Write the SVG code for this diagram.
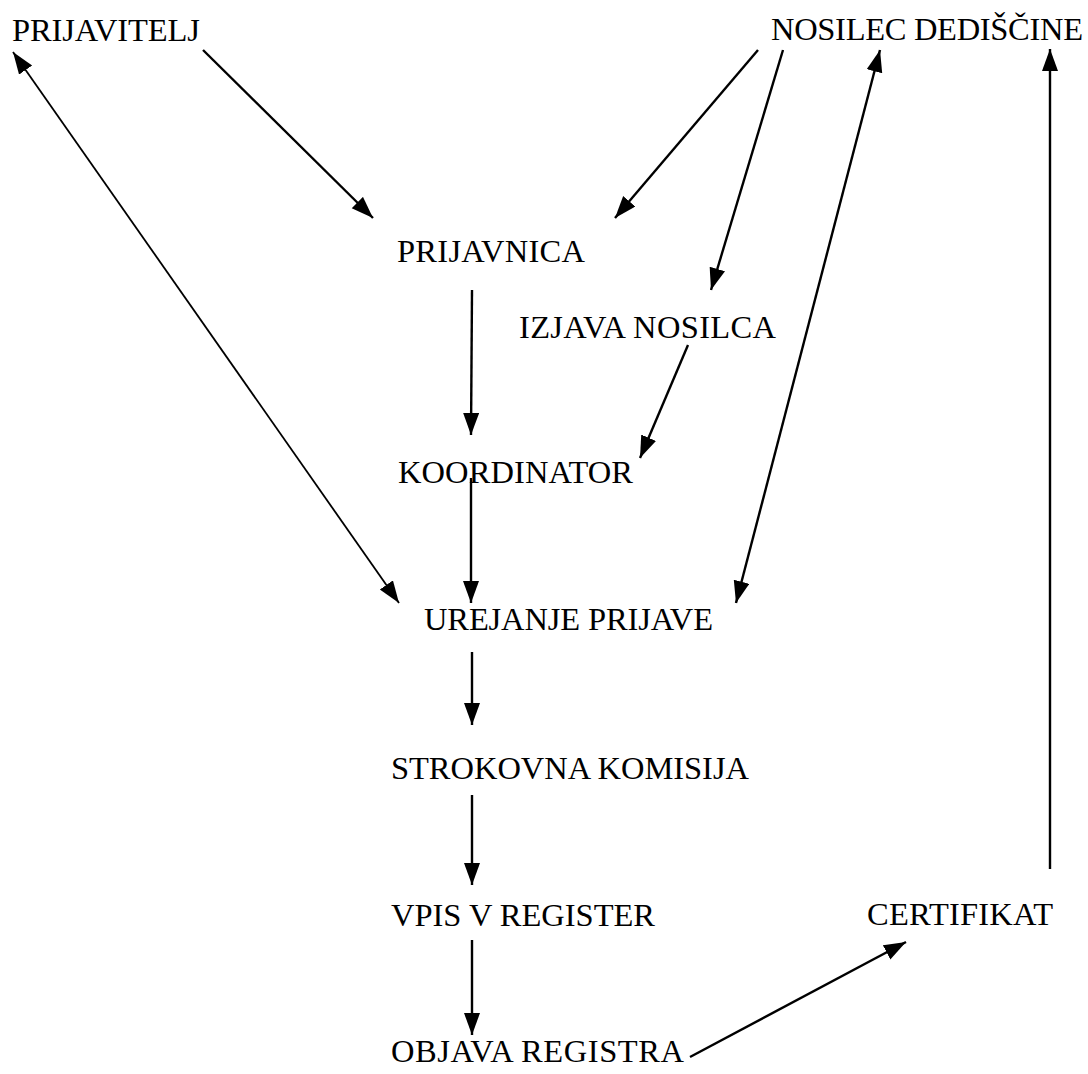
<svg xmlns="http://www.w3.org/2000/svg" width="1088" height="1074" viewBox="0 0 1088 1074">
<style>
text { font-family: "Liberation Serif", "Times New Roman", serif; font-size: 32.5px; fill: #000; }
.c { stroke: #000; stroke-width: 2.4; fill: none; marker-end: url(#ah); }
.thin { stroke-width: 1.8; }
.both { marker-start: url(#ah); }
</style>
<defs>
<marker id="ah" markerUnits="userSpaceOnUse" markerWidth="24" markerHeight="18" refX="22" refY="8" orient="auto-start-reverse" viewBox="0 0 24 18">
<path d="M0,0 L22,8 L0,16 z" fill="#000"/>
</marker>
</defs>
<rect width="1088" height="1074" fill="#fff"/>
<g id="connectors">
<line class="c thin both" x1="13" y1="52" x2="399" y2="603"/>
<line class="c" x1="203" y1="50" x2="373" y2="218"/>
<line class="c" x1="758" y1="50" x2="615" y2="218"/>
<line class="c" x1="783" y1="50" x2="711" y2="290"/>
<line class="c both" x1="736" y1="603" x2="880" y2="50"/>
<line class="c" x1="1050" y1="869" x2="1050" y2="49"/>
<line class="c" x1="472" y1="290" x2="471" y2="435"/>
<line class="c" x1="688" y1="345" x2="640" y2="458"/>
<line class="c" x1="471" y1="478" x2="471" y2="603"/>
<line class="c" x1="472" y1="652" x2="472" y2="725"/>
<line class="c" x1="472" y1="795" x2="472" y2="885"/>
<line class="c" x1="472" y1="940" x2="472" y2="1035"/>
<line class="c" x1="690" y1="1057" x2="906" y2="942"/>
</g>
<g id="prijavitelj"><text x="12" y="41" textLength="188" lengthAdjust="spacing">PRIJAVITELJ</text></g>
<g id="nosilec"><text x="771" y="40" textLength="312" lengthAdjust="spacing">NOSILEC DEDIŠČINE</text></g>
<g id="prijavnica"><text x="397" y="262" textLength="188" lengthAdjust="spacing">PRIJAVNICA</text></g>
<g id="izjava"><text x="519" y="338" textLength="257" lengthAdjust="spacing">IZJAVA NOSILCA</text></g>
<g id="koordinator"><text x="398" y="483" textLength="235" lengthAdjust="spacing">KOORDINATOR</text></g>
<g id="urejanje"><text x="424" y="630" textLength="289" lengthAdjust="spacing">UREJANJE PRIJAVE</text></g>
<g id="komisija"><text x="391" y="779" textLength="358" lengthAdjust="spacing">STROKOVNA KOMISIJA</text></g>
<g id="vpis"><text x="391" y="926" textLength="264" lengthAdjust="spacing">VPIS V REGISTER</text></g>
<g id="certifikat"><text x="867" y="925" textLength="186" lengthAdjust="spacing">CERTIFIKAT</text></g>
<g id="objava"><text x="391" y="1062" textLength="293" lengthAdjust="spacing">OBJAVA REGISTRA</text></g>
</svg>
